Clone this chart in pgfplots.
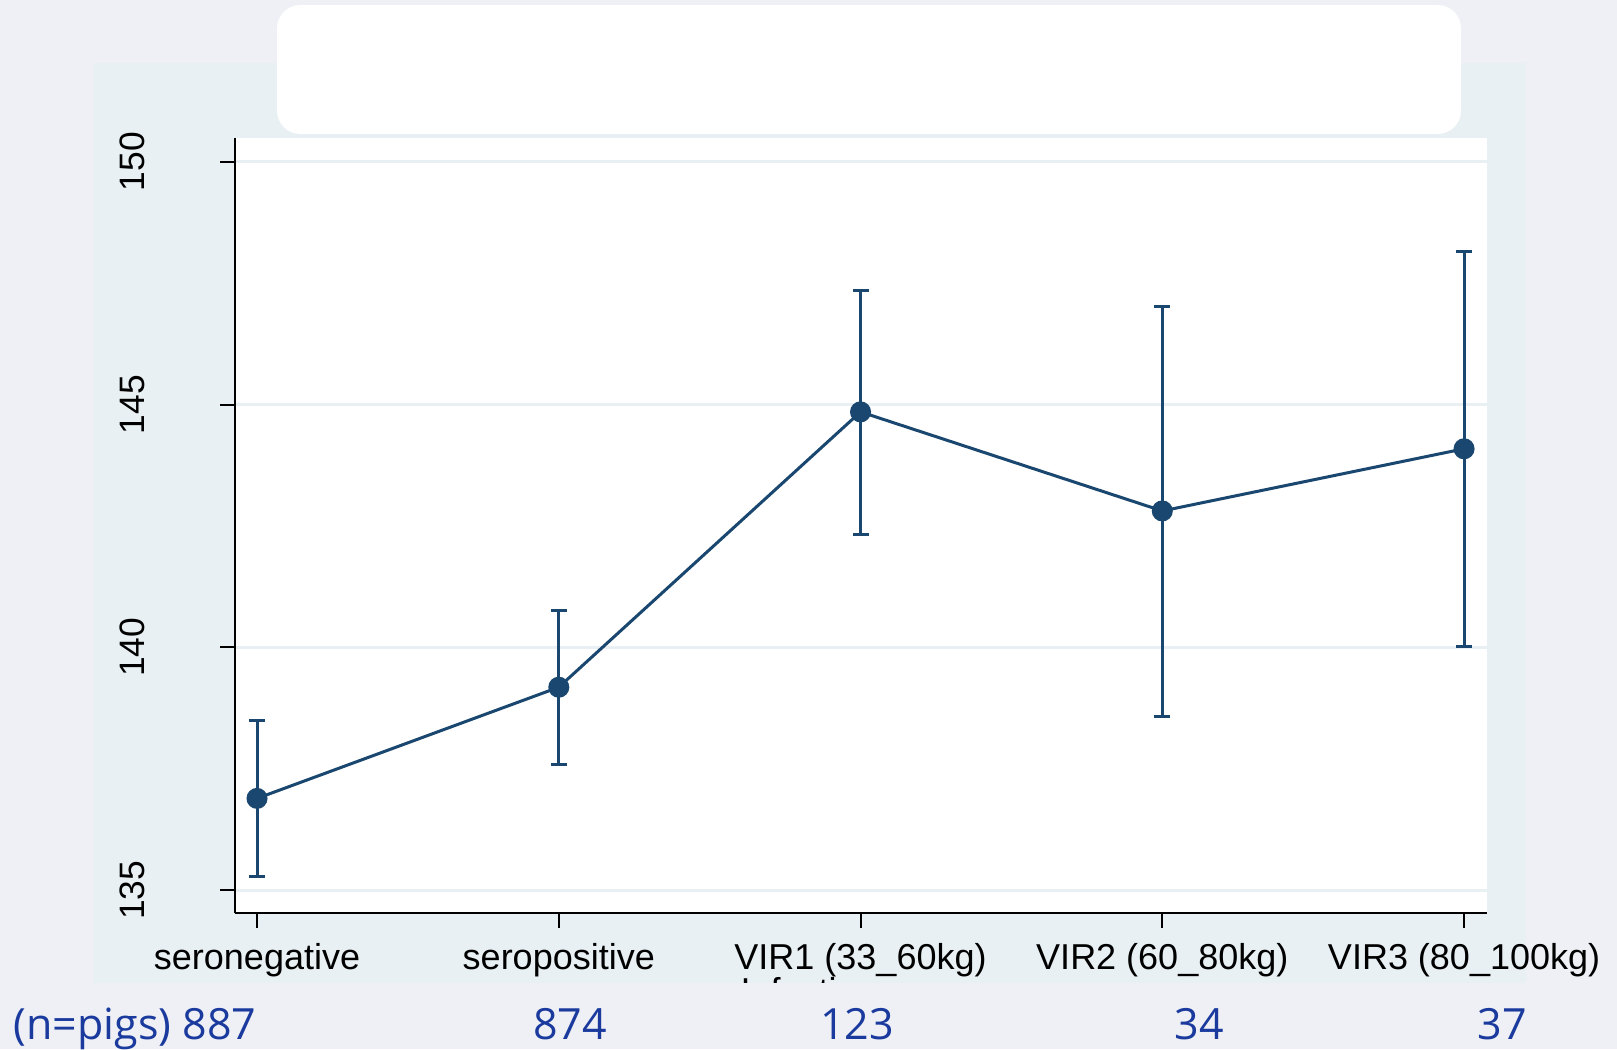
\documentclass[border=0pt]{standalone}
\usepackage{pgfplots}
\pgfplotsset{compat=1.18}
\usepackage{pgfplotstable}
\usepackage{fontspec}
\setmainfont{Liberation Sans}
\newfontfamily\blufont{Open Sans}
\definecolor{bgouter}{HTML}{EEF0F5}
\definecolor{bginner}{HTML}{E8F0F3}
\definecolor{navy}{HTML}{1A476F}
\definecolor{numblue}{HTML}{1A3A9E}
\pgfplotstableread{
x y ep em
0 136.89 1.61 1.61
1 139.18 1.59 1.59
2 144.85 2.51 2.52
3 142.81 4.21 4.23
4 144.09 4.07 4.08
}\datatable
\begin{document}
\begin{tikzpicture}[x=0.3pt,y=0.3pt]
\fill[bgouter] (0,0) rectangle (1617,1049);
\fill[bginner] (93,66) rectangle (1526,986);
\fill[white, rounded corners=7pt] (277,915) rectangle (1461,1044);
\begin{axis}[
  at={(70.5pt,40.8pt)}, anchor=south west,
  scale only axis, width=375.6pt, height=232.5pt,
  xmin=-0.073, xmax=4.076, ymin=134.53, ymax=150.49,
  axis x line*=bottom, axis y line*=left,
  axis background/.style={fill=white},
  axis line style={black, line width=0.6pt},
  tick style={black, line width=0.6pt},
  tick align=outside, major tick length=4.5pt,
  xtick={0,1,2,3,4},
  xticklabels={seronegative, seropositive, VIR1 (33\_60kg), VIR2 (60\_80kg), VIR3 (80\_100kg)},
  ytick={135,140,145,150},
  /pgf/number format/assume math mode=true,
  ymajorgrids, grid style={color=bginner, line width=0.9pt},
  xticklabel style={font=\fontsize{10.8}{13}\selectfont, anchor=base},
  xticklabel shift=12.4pt,
  yticklabel style={font=\fontsize{10.6}{12}\selectfont, rotate=90, anchor=south, inner sep=0pt},
  yticklabel shift=22.2pt,
  clip=false,
]
\addplot[navy, line width=0.9pt, mark=*, mark size=2.7pt,
  mark options={fill=navy, draw=navy},
  error bars/.cd, y dir=both, y explicit,
  error mark=-,
  error bar style={line width=0.9pt, navy},
  error mark options={rotate=90, mark size=2.4pt, line width=0.9pt, navy}]
  table[x=x, y=y, y error plus=ep, y error minus=em] {\datatable};
\end{axis}
\node[anchor=north west, inner sep=0pt, font=\fontsize{10.8}{13}\selectfont] at (740,72) {Infection};
\fill[bgouter] (0,0) rectangle (1617,66);
\begin{scope}[every node/.style={text=numblue, font=\blufont\fontsize{12.9}{15}\selectfont, inner sep=0pt}]
\node[anchor=base west] at (13,10) {(n=pigs) 887};
\node[anchor=base] at (570,10) {874};
\node[anchor=base] at (857,10) {123};
\node[anchor=base] at (1199,10) {34};
\node[anchor=base] at (1502,10) {37};
\end{scope}
\pgfresetboundingbox
\useasboundingbox (0,0) rectangle (1617,1049);
\end{tikzpicture}
\end{document}
